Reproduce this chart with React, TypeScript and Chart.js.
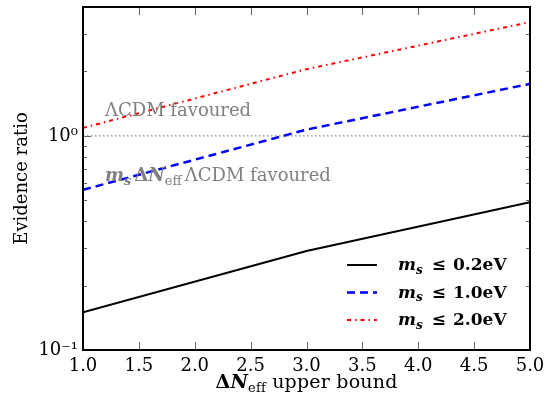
import React, { useEffect, useRef } from "react";
import { Chart, registerables } from "chart.js";

Chart.register(...registerables);

// ---- data ----
const deltaNeffUpper = [1.0, 3.0, 5.0];
const ratioMs02 = [0.15, 0.29, 0.49];
const ratioMs10 = [0.56, 1.07, 1.75];
const ratioMs20 = [1.09, 2.05, 3.4];
const equalEvidenceX = [1.0, 5.0];
const equalEvidenceY = [1.0, 1.0];
const xRange = [1.0, 5.0];
const yRange = [0.1, 4.0];
const xTickStep = 0.5;
const yMajorTicks = [0.1, 1];
const yMajorLabels = ["10\u207B\u00B9", "10\u2070"];
const yMinorTicks = [0.2, 0.3, 0.4, 0.5, 0.6, 0.7, 0.8, 0.9, 2, 3, 4];
const legendMasses = ["0.2", "1.0", "2.0"];
const yTitle = "Evidence ratio";
const annotationTop = "\u039BCDM favoured";
const annotationBottomTail = "\u039BCDM favoured";

const FONT = "'DejaVu Serif', serif";

type Part = { t?: string; it?: boolean; sub?: boolean; bold?: boolean; gap?: number };

function drawMath(
  ctx: CanvasRenderingContext2D,
  parts: Part[],
  x: number,
  y: number,
  size: number,
  color: string,
  align: "left" | "center" = "left",
  spacing = 0
) {
  const fontFor = (p: Part) =>
    `${p.it ? "italic " : ""}${p.bold ? "bold " : ""}${p.sub ? Math.round(size * 0.7) : size}px ${FONT}`;
  ctx.save();
  (ctx as any).letterSpacing = `${spacing}px`;
  let total = 0;
  const widths = parts.map((p) => {
    if (p.gap !== undefined) {
      total += p.gap;
      return p.gap;
    }
    ctx.font = fontFor(p);
    const w = ctx.measureText(p.t || "").width;
    total += w;
    return w;
  });
  let cx = align === "center" ? x - total / 2 : x;
  ctx.fillStyle = color;
  ctx.textBaseline = "alphabetic";
  ctx.textAlign = "left";
  parts.forEach((p, i) => {
    if (p.gap === undefined) {
      ctx.font = fontFor(p);
      ctx.fillText(p.t || "", cx, p.sub ? y + size * 0.22 : y);
    }
    cx += widths[i];
  });
  (ctx as any).letterSpacing = "0px";
  ctx.restore();
}

const decorPlugin = {
  id: "decor",
  afterDatasetsDraw(chart: any) {
    const ctx: CanvasRenderingContext2D = chart.ctx;
    const { left, right, top, bottom } = chart.chartArea;
    const xs = chart.scales.x;
    const ys = chart.scales.y;
    ctx.save();
    // inward ticks
    ctx.strokeStyle = "#666";
    ctx.lineWidth = 1;
    ctx.beginPath();
    for (let v = xRange[0]; v <= xRange[1] + 1e-9; v += xTickStep) {
      const px = Math.round(xs.getPixelForValue(v)) + 0.5;
      ctx.moveTo(px, bottom);
      ctx.lineTo(px, bottom - 8);
      ctx.moveTo(px, top);
      ctx.lineTo(px, top + 8);
    }
    yMajorTicks.forEach((v) => {
      const py = Math.round(ys.getPixelForValue(v)) + 0.5;
      ctx.moveTo(left, py);
      ctx.lineTo(left + 8, py);
      ctx.moveTo(right, py);
      ctx.lineTo(right - 8, py);
    });
    yMinorTicks.forEach((v) => {
      const py = Math.round(ys.getPixelForValue(v)) + 0.5;
      ctx.moveTo(left, py);
      ctx.lineTo(left + 4, py);
      ctx.moveTo(right, py);
      ctx.lineTo(right - 4, py);
    });
    ctx.stroke();
    // frame
    ctx.strokeStyle = "#000";
    ctx.lineWidth = 2;
    ctx.strokeRect(left, top, right - left, bottom - top);

    // annotations
    const gray = "#808080";
    drawMath(ctx, [{ t: annotationTop }], left + 22, 116, 18, gray);
    drawMath(
      ctx,
      [
        { t: "m", it: true, bold: true },
        { t: "s", it: true, sub: true, bold: true },
        { gap: 3 },
        { t: "\u0394", bold: true },
        { t: "N", it: true, bold: true },
        { t: "eff", sub: true },
        { gap: 3 },
        { t: annotationBottomTail },
      ],
      left + 22,
      181,
      18,
      gray
    );

    // legend
    const ds = chart.data.datasets;
    legendMasses.forEach((m, i) => {
      const d = ds[i];
      const ly = 265 + i * 27.5;
      ctx.save();
      ctx.strokeStyle = d.borderColor;
      ctx.lineWidth = d.borderWidth;
      ctx.setLineDash(d.borderDash || []);
      ctx.beginPath();
      ctx.moveTo(347, ly);
      ctx.lineTo(377, ly);
      ctx.stroke();
      ctx.restore();
      drawMath(
        ctx,
        [
          { t: "m", it: true, bold: true },
          { t: "s", it: true, sub: true, bold: true },
          { gap: 9 },
          { t: "\u2264", bold: true },
          { gap: 7 },
          { t: `${m}eV`, bold: true },
        ],
        398,
        ly + 5,
        17,
        "#000"
      );
    });

    // axis titles
    drawMath(
      ctx,
      [{ t: "\u0394", bold: true }, { t: "N", it: true, bold: true }, { t: "eff", sub: true }, { t: " upper bound" }],
      (left + right) / 2,
      388,
      19,
      "#000",
      "center",
      0.2
    );
    ctx.save();
    ctx.translate(27, (top + bottom) / 2);
    ctx.rotate(-Math.PI / 2);
    (ctx as any).letterSpacing = "0px";
    ctx.font = `18px ${FONT}`;
    ctx.fillStyle = "#000";
    ctx.textAlign = "center";
    ctx.textBaseline = "alphabetic";
    ctx.fillText(yTitle, 0, 0);
    ctx.restore();
    ctx.restore();
  },
};

const toPts = (xsArr: number[], ysArr: number[]) => xsArr.map((x, i) => ({ x, y: ysArr[i] }));

const zeroPad = (s: any) => {
  s.paddingTop = 0;
  s.paddingBottom = 0;
  s.paddingLeft = 0;
  s.paddingRight = 0;
};

export default function App() {
  const ref = useRef<HTMLCanvasElement>(null);
  useEffect(() => {
    document.body.style.margin = "0";
    const canvas = ref.current!;
    const chart = new Chart(canvas, {
      type: "line",
      data: {
        datasets: [
          { data: toPts(deltaNeffUpper, ratioMs02), borderColor: "#000000", borderWidth: 2, pointRadius: 0, borderDash: [] },
          { data: toPts(deltaNeffUpper, ratioMs10), borderColor: "#0000ff", borderWidth: 2.5, pointRadius: 0, borderDash: [8, 5] },
          { data: toPts(deltaNeffUpper, ratioMs20), borderColor: "#ff0000", borderWidth: 2, pointRadius: 0, borderDash: [4, 4, 1.5, 4] },
          { data: toPts(equalEvidenceX, equalEvidenceY), borderColor: "#888888", borderWidth: 1.2, pointRadius: 0, borderDash: [1.5, 2.5] },
        ] as any,
      },
      options: {
        responsive: false,
        animation: false,
        devicePixelRatio: 1,
        layout: { padding: { top: 7, right: 17, left: 0, bottom: 0 } },
        plugins: { legend: { display: false }, tooltip: { enabled: false } },
        scales: {
          x: {
            type: "linear",
            min: xRange[0],
            max: xRange[1],
            grid: { display: false, drawTicks: false },
            border: { display: false },
            ticks: {
              stepSize: xTickStep,
              autoSkip: false,
              maxRotation: 0,
              padding: 6,
              color: "#000",
              font: { family: FONT, size: 18 },
              callback: (v: any) => Number(v).toFixed(1),
            },
            afterFit: (s: any) => {
              s.height = 44;
              zeroPad(s);
            },
          },
          y: {
            type: "logarithmic",
            min: yRange[0],
            max: yRange[1],
            grid: { display: false, drawTicks: false },
            border: { display: false },
            ticks: {
              autoSkip: false,
              padding: 5,
              color: "#000",
              font: { family: FONT, size: 18 },
              callback: (v: any) => {
                const idx = yMajorTicks.findIndex((m) => Math.abs(m - Number(v)) < 1e-9);
                return idx >= 0 ? yMajorLabels[idx] : "";
              },
            },
            afterFit: (s: any) => {
              s.width = 83;
              zeroPad(s);
            },
          },
        },
      } as any,
      plugins: [decorPlugin],
    });
    return () => chart.destroy();
  }, []);
  return (
    <div style={{ width: 547, height: 394 }}>
      <canvas ref={ref} width={547} height={394} />
    </div>
  );
}
